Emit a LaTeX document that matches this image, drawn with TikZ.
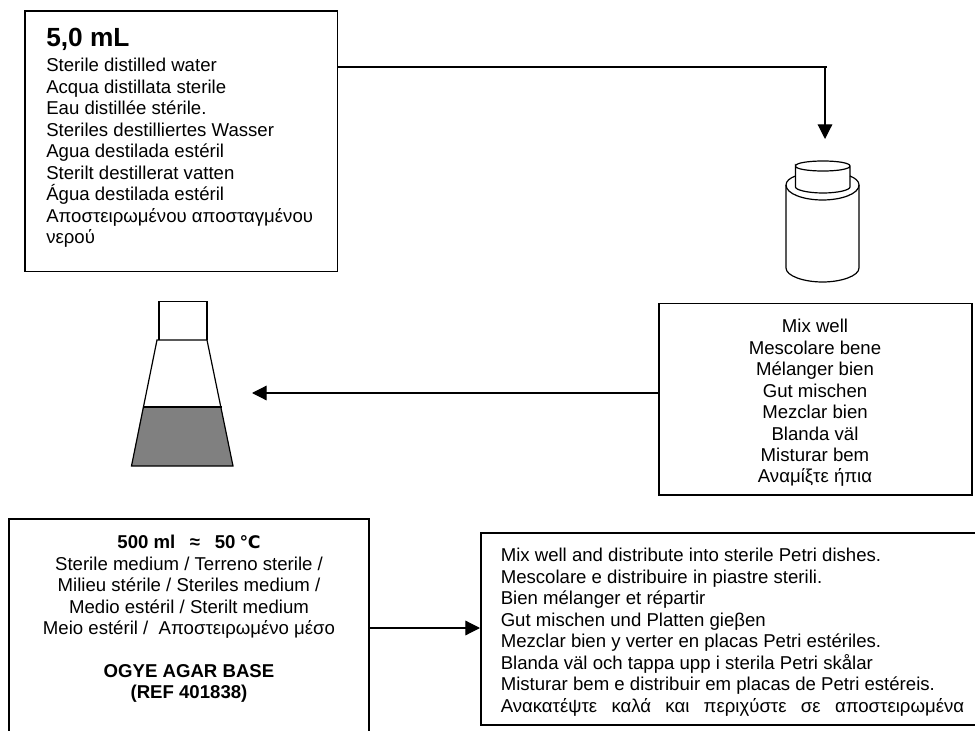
\documentclass[tikz,border=0pt]{standalone}
\usepackage{fontspec}
\setmainfont{Liberation Sans}
\newfontfamily\symfont{DejaVu Sans}
\usetikzlibrary{arrows.meta}
\tikzset{
  x=0.75pt,y=-0.75pt,
  box/.style={draw,line width=1.1pt},
  txt/.style={inner sep=0pt,font=\fontsize{13.95pt}{16.1pt}\selectfont},
  conn/.style={line width=0.9pt},
  tipped/.style={conn,-{Triangle[length=11pt,width=11pt]}},
  sk/.style={line width=0.9pt}
}
\begin{document}
\begin{tikzpicture}
\useasboundingbox (0,0) rectangle (975,731);
\draw[box] (25,11) rectangle (337.5,271.5);
\coordinate (tboxr) at (338,67);
\coordinate (tcorner) at (827,67);
\coordinate (tdown) at (825,67);
\coordinate (ttip) at (825,139);
\node[inner sep=0pt,anchor=base west,font=\bfseries\fontsize{19.7pt}{20pt}\selectfont] (title) at (46,47) {5,0 mL};
\node[txt,anchor=north west,align=left] (water) at (46,58) {Sterile distilled water\\
Acqua distillata sterile\\
Eau distillée stérile.\\
Steriles destilliertes Wasser\\
Agua destilada estéril\\
Sterilt destillerat vatten\\
Água destilada estéril\\
Αποστειρωμένου αποσταγμένου\\
νερού};
\draw[box] (659,303.5) rectangle (972,495);
\node[txt,align=center] (mix) at (815,403) {Mix well\\
Mescolare bene\\
Mélanger bien\\
Gut mischen\\
Mezclar bien\\
Blanda väl\\
Misturar bem\\
Αναμίξτε ήπια};
\draw[box] (9,731) -- (9,519) -- (369,519) -- (369,731);
\node[txt,align=center] (medium) at (189,619) {{\bfseries 500 ml\hspace{11pt}≈\hspace{11pt}50\hspace{3pt}{\symfont\fontsize{13pt}{16.1pt}\selectfont ℃}}\\
Sterile medium / Terreno sterile /\\
Milieu stérile / Steriles medium /\\
Medio estéril / Sterilt medium\\
Meio estéril /\ \ Αποστειρωμένο μέσο\\[16.1pt]
{\bfseries OGYE AGAR BASE}\\
{\bfseries (REF 401838)}};
\draw[box] (975,533) -- (481,533) -- (481,725) -- (975,725);
\node[txt,anchor=north west,align=left] (dist) at (500.5,548) {Mix well and distribute into sterile Petri dishes.\\
Mescolare e distribuire in piastre sterili.\\
Bien mélanger et répartir\\
Gut mischen und Platten gieβen\\
Mezclar bien y verter en placas Petri estériles.\\
Blanda väl och tappa upp i sterila Petri skålar\\
Misturar bem e distribuir em placas de Petri estéreis.\\
\hbox to 347.5pt{Ανακατέψτε\hfill καλά\hfill και\hfill περιχύστε\hfill σε\hfill αποστειρωμένα}};
% flask
\fill[fill=black!50] (143,407) -- (221,407) -- (233,466) -- (131.5,466) -- cycle;
\draw[sk] (159,340) -- (159,301.5) -- (207,301.5) -- (207,340);
\draw[sk] (131.5,466) -- (157,340) -- (207,340) -- (233,466) -- cycle;
\draw[line width=1.3pt] (143,407) -- (221.5,407);
\coordinate (flasktip) at (252,393);
\coordinate (mixl) at (659,393);
% jar
\draw[sk] (795.5,176) .. controls (790,178) and (786,181) .. (786,185) -- (786,268)
  .. controls (786,276) and (804,282) .. (822.5,282)
  .. controls (841,282) and (859,276) .. (859,268) -- (859,185)
  .. controls (859,181) and (855,178) .. (850,176);
\draw[sk] (786,185) .. controls (786,194) and (804,200) .. (822.5,200)
  .. controls (841,200) and (859,194) .. (859,185);
\draw[sk] (795.5,166) .. controls (795.5,163) and (808,161) .. (823,161)
  .. controls (838,161) and (850,163) .. (850,166)
  .. controls (850,169) and (838,171) .. (823,171)
  .. controls (808,171) and (795.5,169) .. (795.5,166) -- (795.5,187)
  .. controls (795.5,190) and (808,193) .. (823,193)
  .. controls (838,193) and (850,190) .. (850,187) -- (850,166);
% connectors
\draw[conn] (tboxr) -- (tcorner);
\draw[tipped] (tdown) -- (ttip);
\draw[tipped] (mixl) -- (flasktip);
\coordinate (medr) at (369,628);
\coordinate (distl) at (480,628);
\draw[tipped] (medr) -- (distl);
\end{tikzpicture}
\end{document}
